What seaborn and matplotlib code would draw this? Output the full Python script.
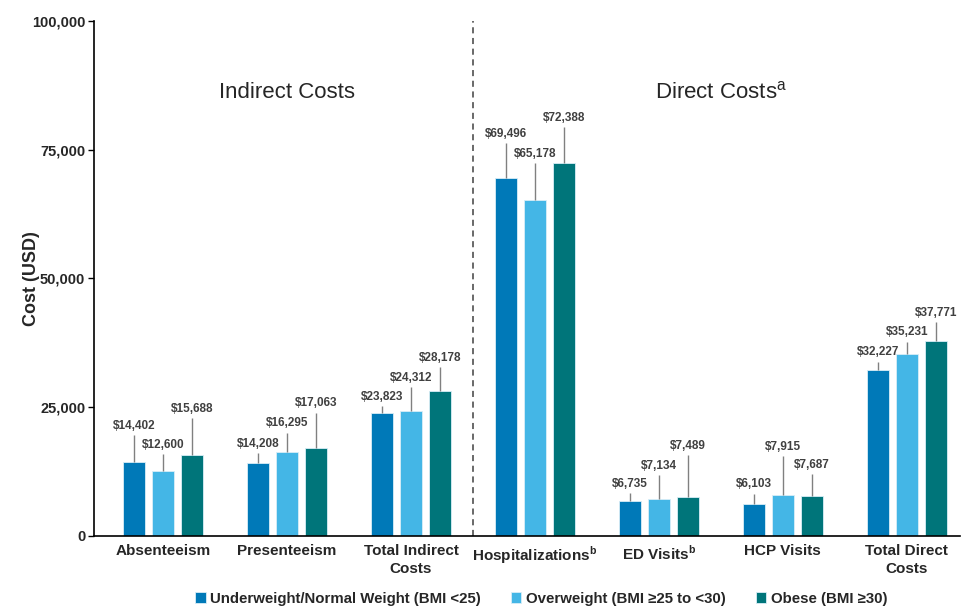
import numpy as np
import pandas as pd
import matplotlib
matplotlib.use("Agg")
import matplotlib.pyplot as plt
import seaborn as sns

# chart values
categories = ["Absenteeism", "Presenteeism", "Total Indirect\nCosts",
              "Hospitalizations$^\\mathregular{b}$", "ED Visits$^\\mathregular{b}$",
              "HCP Visits", "Total Direct\nCosts"]
groups = ["Underweight/Normal Weight (BMI <25)",
          "Overweight (BMI \u226525 to <30)",
          "Obese (BMI \u226530)"]
normal_cost = [14402, 14208, 23823, 69496, 6735, 6103, 32227]
overweight_cost = [12600, 16295, 24312, 65178, 7134, 7915, 35231]
obese_cost = [15688, 17063, 28178, 72388, 7489, 7687, 37771]
# upper end of the error bars
normal_upper = [19600, 16100, 25200, 76300, 8300, 8200, 33800]
overweight_upper = [15900, 20000, 28900, 72400, 11800, 15500, 37700]
obese_upper = [22900, 23900, 32800, 79400, 15700, 12000, 41500]

colors = ["#0079b8", "#44b6e6", "#00757a"]

sns.set_style("white")
plt.rcParams['font.family'] = ['Liberation Sans', 'DejaVu Sans']
plt.rcParams['mathtext.fontset'] = 'custom'
plt.rcParams['mathtext.rm'] = 'Liberation Sans'

rows = []
for g, vals, ups in zip(groups, [normal_cost, overweight_cost, obese_cost],
                        [normal_upper, overweight_upper, obese_upper]):
    for c, v, u in zip(categories, vals, ups):
        rows.append({"category": c, "group": g, "cost": v, "upper": u})
df = pd.DataFrame(rows)

fig = plt.figure(figsize=(9.61, 6.16), dpi=100)
ax = fig.add_axes([0.098, 0.130, 0.901, 0.836])

sns.barplot(data=df, x="category", y="cost", hue="group", order=categories,
            hue_order=groups, palette=colors, saturation=1, width=0.70, gap=0.24,
            errorbar=None, edgecolor="#d9eef7", linewidth=0.6, ax=ax)

# error bars and value labels
for container, g in zip(ax.containers, groups):
    sub = df[df["group"] == g].set_index("category").loc[categories]
    xs = [b.get_x() + b.get_width() / 2 for b in container]
    ys = sub["cost"].values
    ups = sub["upper"].values
    ax.errorbar(xs, ys, yerr=[np.zeros(len(ys)), ups - ys], fmt="none",
                ecolor="#808080", elinewidth=1, capsize=0, zorder=1)
    for x, y, u in zip(xs, ys, ups):
        ax.annotate(f"${y:,.0f}", (x, u), xytext=(0, 2.5), textcoords="offset points",
                    ha="center", va="bottom", fontsize=8.5, fontweight="bold",
                    color="#404040")

ax.axvline(2.5, color="#404040", linestyle=(0, (4, 3)), linewidth=1.1)
ax.text(1.0, 86200, "Indirect Costs", ha="center", va="center", fontsize=16)
ax.text(4.5, 86200, "Direct Costs$^\\mathregular{a}$", ha="center",
        va="center", fontsize=16)

ax.set_xlim(-0.556, 6.43)
ax.set_ylim(0, 100000)
ax.set_yticks([0, 25000, 50000, 75000, 100000])
ax.set_yticklabels(["0", "25,000", "50,000", "75,000", "100,000"],
                   fontsize=10.5, fontweight="bold")
ax.set_xticks(range(len(categories)))
ax.set_xticklabels(categories, fontsize=11, fontweight="bold", linespacing=1.3)
ax.tick_params(axis="y", length=4.5, width=1, color="black", direction="out", left=True,
               pad=2)
ax.tick_params(axis="x", length=0, pad=6)
ax.set_xlabel("")
ax.set_ylabel("Cost (USD)", fontsize=13, fontweight="bold")
ax.yaxis.set_label_coords(-0.063, 0.5)

for s in ["top", "right"]:
    ax.spines[s].set_visible(False)
for s in ["left", "bottom"]:
    ax.spines[s].set_color("black")
    ax.spines[s].set_linewidth(1.2)

handles, labels = ax.get_legend_handles_labels()
ax.legend(handles, labels, loc="lower center", bbox_to_anchor=(0.563, -0.005),
          bbox_transform=fig.transFigure, ncol=3, frameon=False,
          handlelength=0.7, handleheight=0.7, handletextpad=0.3, columnspacing=2.0,
          prop={"size": 10.8, "weight": "bold"})

fig.savefig("out.png", dpi=100)
